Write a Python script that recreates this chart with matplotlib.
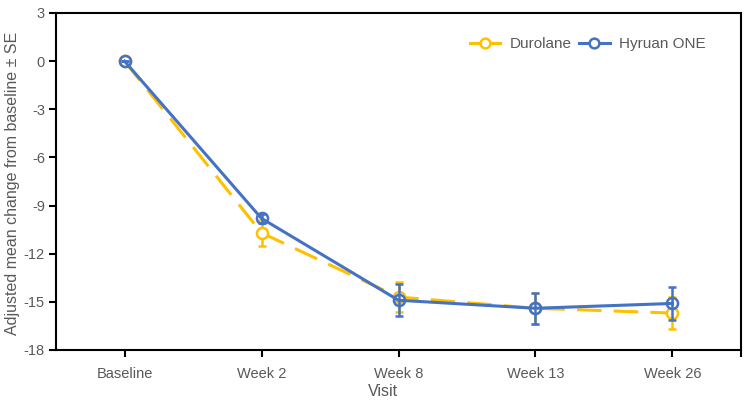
import matplotlib.pyplot as plt
from matplotlib.lines import Line2D
import numpy as np

plt.rcParams['font.family'] = ['Liberation Sans', 'DejaVu Sans']
plt.rcParams['axes.unicode_minus'] = False

visits = ['Baseline', 'Week 2', 'Week 8', 'Week 13', 'Week 26']
durolane = [0.0, -10.7, -14.7, -15.4, -15.7]
durolane_se = [0.0, 0.8, 0.95, 0.95, 1.0]
hyruan = [0.0, -9.8, -14.9, -15.4, -15.1]
hyruan_se = [0.0, 0.3, 1.0, 0.95, 1.0]

gold = '#FFC000'
blue = '#4472C4'
gray = '#595959'


def main():
    fig = plt.figure(figsize=(7.49, 4.01), dpi=100)
    ax = fig.add_axes([0.0748, 0.1272, 0.9145, 0.8404])
    x = np.arange(len(visits))

    ax.errorbar(x, durolane, yerr=durolane_se, color=gold, lw=2.2, ls=(0, (8, 4)),
                marker='o', ms=8, mfc='white', mew=1.8, capsize=3, elinewidth=1.8,
                capthick=1.8, zorder=2)
    ax.errorbar(x, hyruan, yerr=hyruan_se, color=blue, lw=2.2,
                marker='o', ms=8, mfc='none', mew=1.8, capsize=3, elinewidth=1.8,
                capthick=1.8, zorder=3)

    ax.set_xlim(-0.5, 4.5)
    ax.set_ylim(-18, 3)
    ax.set_yticks(np.arange(-18, 4, 3))
    ax.set_xticks(x)
    ax.set_xticklabels(visits)
    ax.set_xticks([4.5], minor=True)
    ax.tick_params(axis='x', which='minor', direction='out', length=5, width=1.5, color='black')

    for s in ax.spines.values():
        s.set_linewidth(1.5)
        s.set_color('black')
    ax.tick_params(axis='both', which='major', direction='out', length=5, width=1.5,
                   colors='black', labelcolor=gray, labelsize=10.5)
    ax.tick_params(axis='y', pad=3)
    ax.tick_params(axis='x', pad=7)

    ax.set_xlabel('Visit', color=gray, fontsize=11.5)
    ax.xaxis.set_label_coords(0.477, -0.1)
    ax.set_ylabel('Adjusted mean change from baseline ± SE', color=gray, fontsize=11.5)
    ax.yaxis.set_label_coords(-0.052, 0.495)

    # legend without error bars, like the original
    handles = [
        Line2D([], [], color=gold, lw=2.2, marker='o', ms=7, mfc='white', mew=1.8),
        Line2D([], [], color=blue, lw=2.2, marker='o', ms=7, mfc='white', mew=1.8),
    ]
    ax.legend(handles, ['Durolane', 'Hyruan ONE'], loc='upper right', ncol=2, frameon=False,
              fontsize=11, bbox_to_anchor=(0.968, 0.97), handlelength=2.0, columnspacing=0.5,
              handletextpad=0.6, labelcolor=gray)

    fig.savefig('out.png', dpi=100)


if __name__ == "__main__":
    main()
